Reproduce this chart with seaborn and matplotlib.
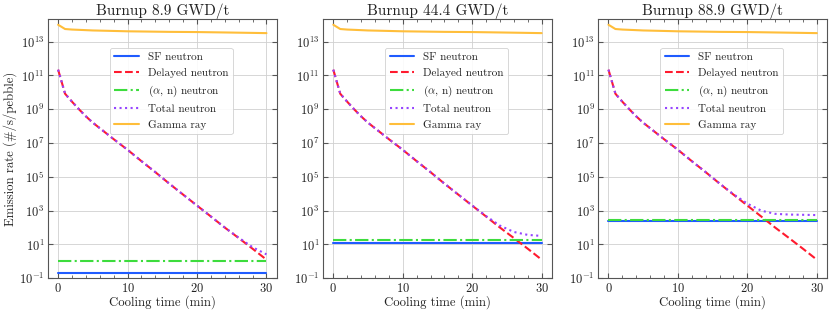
import numpy as np
import pandas as pd
import matplotlib
matplotlib.use("Agg")
import matplotlib.pyplot as plt
import seaborn as sns
from matplotlib.ticker import FixedLocator, MultipleLocator, NullLocator

# ---- data ----
time = [0, 1, 2, 3, 4, 5, 6, 8, 10, 12, 14, 16, 18, 20, 22, 24, 26, 28, 30]
titles = ["Burnup 8.9 GWD/t", "Burnup 44.4 GWD/t", "Burnup 88.9 GWD/t"]

delayed = [2.2e11, 8.3e9, 2.8e9, 1.0e9, 3.8e8, 1.6e8, 7.6e7, 1.7e7, 4.0e6, 8.5e5,
           1.9e5, 4.0e4, 8.9e3, 2.0e3, 4.5e2, 1.0e2, 24, 5.6, 1.26]
gamma = [1.0e14, 5.6e13, 5.2e13, 5.0e13, 4.8e13, 4.6e13, 4.5e13, 4.3e13, 4.1e13, 4.0e13,
         3.9e13, 3.8e13, 3.75e13, 3.7e13, 3.6e13, 3.5e13, 3.4e13, 3.3e13, 3.2e13]

sf_1 = [0.22] * 19
an_1 = [1.1] * 19
total_1 = [2.2e11, 8.3e9, 2.8e9, 1.0e9, 3.8e8, 1.6e8, 7.6e7, 1.7e7, 4.0e6, 8.5e5,
           1.9e5, 4.0e4, 8.9e3, 2.0e3, 4.5e2, 1.0e2, 25.3, 6.9, 2.6]

sf_2 = [13] * 19
an_2 = [18] * 19
total_2 = [2.2e11, 8.3e9, 2.8e9, 1.0e9, 3.8e8, 1.6e8, 7.6e7, 1.7e7, 4.0e6, 8.5e5,
           1.9e5, 4.0e4, 8.9e3, 2.03e3, 4.8e2, 1.3e2, 55, 37, 32]

sf_3 = [260] * 19
an_3 = [290] * 19
total_3 = [2.2e11, 8.3e9, 2.8e9, 1.0e9, 3.8e8, 1.6e8, 7.6e7, 1.7e7, 4.0e6, 8.5e5,
           1.9e5, 4.06e4, 9.4e3, 2.6e3, 1.0e3, 6.5e2, 5.9e2, 5.7e2, 5.5e2]

panels = [(sf_1, an_1, total_1), (sf_2, an_2, total_2), (sf_3, an_3, total_3)]

labels = ["SF neutron", "Delayed neutron", r"($\alpha$, n) neutron", "Total neutron", "Gamma ray"]
colors = ["#1f5bff", "#ff1a2e", "#3ddc3d", "#9645ff", "#ffbe3a"]
styles = ["-", "--", "-.", ":", "-"]

# ---- style ----
sns.set_style("ticks")
plt.rcParams.update({
    "font.family": ["cmr10", "DejaVu Serif"],
    "mathtext.fontset": "cm",
    "axes.formatter.use_mathtext": True,
    "axes.unicode_minus": False,
    "xtick.direction": "in",
    "ytick.direction": "in",
    "xtick.top": True,
    "ytick.right": True,
    "axes.edgecolor": "#555555",
    "axes.linewidth": 0.8,
    "xtick.color": "#555555",
    "ytick.color": "#555555",
    "xtick.labelcolor": "#222222",
    "ytick.labelcolor": "#222222",
    "text.color": "#222222",
    "axes.labelcolor": "#222222",
})

fig, axes = plt.subplots(1, 3, figsize=(8.31, 3.13), dpi=100)
fig.subplots_adjust(left=0.0574, right=0.9955, top=0.9383, bottom=0.1109, wspace=0.2006)

for ax, title, (sf, an, tot) in zip(axes, titles, panels):
    series = [sf, delayed, an, tot, gamma]
    for vals, lab, col, ls in zip(series, labels, colors, styles):
        df = pd.DataFrame({"t": time, "v": vals})
        sns.lineplot(data=df, x="t", y="v", ax=ax, color=col, linestyle=ls,
                     linewidth=1.5, label=lab)
    ax.set_yscale("log")
    ax.set_ylim(0.1, 2.1e14)
    ax.set_xlim(-1.5, 31.5)
    ax.yaxis.set_major_locator(FixedLocator([10.0 ** k for k in range(-1, 14, 2)]))
    ax.yaxis.set_minor_locator(NullLocator())
    ax.xaxis.set_major_locator(MultipleLocator(10))
    ax.xaxis.set_minor_locator(MultipleLocator(2))
    ax.tick_params(which="major", length=3.5, width=0.8, labelsize=9, pad=2.5)
    ax.tick_params(which="minor", length=2, width=0.6)
    ax.grid(True, which="major", color="#d0d0d0", linewidth=0.6)
    ax.set_axisbelow(True)
    ax.set_title(title, fontsize=11, pad=3)
    ax.set_xlabel("Cooling time (min)", fontsize=9.2, labelpad=0)
    ax.set_ylabel("")
    leg = ax.legend(loc="upper right", bbox_to_anchor=(0.807, 0.889), borderaxespad=0,
                    fontsize=8, labelspacing=0.5, handlelength=2.2, handletextpad=0.8,
                    borderpad=0.4, frameon=True, fancybox=True, framealpha=0.9,
                    edgecolor="#cccccc")
    leg.get_frame().set_linewidth(0.6)

axes[0].set_ylabel("Emission rate (#/s/pebble)", fontsize=9.2, labelpad=1)

fig.savefig("out.png", dpi=100)
